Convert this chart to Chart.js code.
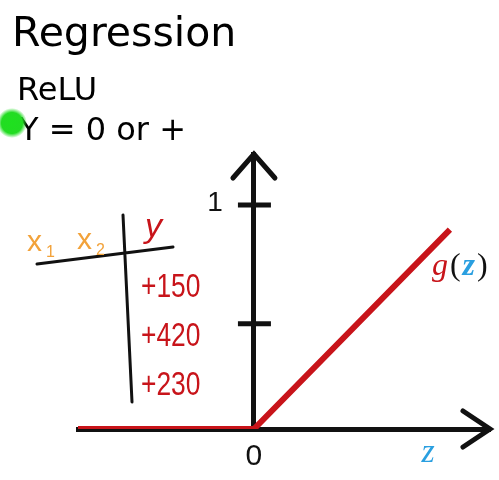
<!DOCTYPE html>
<html>
<head>
<meta charset="utf-8">
<title>Regression – ReLU</title>
<script src="https://cdn.jsdelivr.net/npm/chart.js@4.4.1/dist/chart.umd.min.js"></script>
<style>
  html, body { margin: 0; padding: 0; background: #fff; }
  #reluChart { display: block; }
</style>
</head>
<body>
<canvas id="reluChart" width="499" height="480"></canvas>
<script>
// ReLU: g(z) = max(0, z)
const reluZ = [-0.79, 0, 0.88];
const reluG = [0, 0, 0.89];

const xTickValues = [0];
const xTickLabels = ['0'];
const yTickValues = [0.47, 1];
const yTickLabels = ['', '1'];

// handgeschriebene Tabelle links
const featureNames = ['x', 'x'];
const featureIndex = ['1', '2'];
const targetName = 'y';
const targetValues = [150, 420, 230];

const ROT = '#c8141a';
const BLAU = '#2a9fe0';
const ORANGE = '#f2a23a';
const SCHWARZ = '#111';

// === Zusatzzeichnungen (Pfeile, Striche, Texte) ===
const slideDecor = {
  id: 'slideDecor',
  afterDraw(chart) {
    const { ctx, chartArea, scales: { x, y } } = chart;
    const x0 = x.getPixelForValue(0);
    const y0 = y.getPixelForValue(0);

    ctx.save();
    ctx.strokeStyle = SCHWARZ;
    ctx.lineWidth = 5;
    ctx.lineJoin = 'miter';
    ctx.lineCap = 'round';

    // Pfeilspitze x-Achse
    ctx.beginPath();
    ctx.moveTo(chartArea.right - 27, y0 - 18);
    ctx.lineTo(chartArea.right, y0);
    ctx.lineTo(chartArea.right - 27, y0 + 18);
    ctx.stroke();

    // Pfeilspitze y-Achse
    ctx.beginPath();
    ctx.moveTo(x0 - 21, chartArea.top + 24);
    ctx.lineTo(x0, chartArea.top);
    ctx.lineTo(x0 + 21, chartArea.top + 24);
    ctx.stroke();

    // Striche und Beschriftung auf der y-Achse
    ctx.lineCap = 'butt';
    ctx.fillStyle = SCHWARZ;
    ctx.font = '28px "Liberation Sans"';
    ctx.textAlign = 'right';
    ctx.textBaseline = 'middle';
    yTickValues.forEach((v, i) => {
      const py = y.getPixelForValue(v);
      ctx.beginPath();
      ctx.moveTo(x0 - 16, py);
      ctx.lineTo(x0 + 17, py);
      ctx.stroke();
      ctx.fillText(yTickLabels[i], x0 - 31, py - 2);
    });

    // g(z)
    const last = reluZ.length - 1;
    let gx = x.getPixelForValue(reluZ[last]) - 18;
    const gy = y.getPixelForValue(reluG[last]) + 45;
    ctx.textBaseline = 'alphabetic';
    ctx.textAlign = 'left';
    const teile = [
      ['g', ROT, 'italic 32px "Liberation Serif"'],
      ['(', SCHWARZ, '32px "Liberation Serif"'],
      ['z', BLAU, 'italic bold 32px "Liberation Serif"'],
      [')', SCHWARZ, '32px "Liberation Serif"']
    ];
    teile.forEach(([t, c, f]) => {
      ctx.font = f;
      ctx.fillStyle = c;
      ctx.fillText(t, gx, gy);
      gx += ctx.measureText(t).width + 2;
    });

    // z unter der x-Achse
    ctx.font = 'italic 34px "Liberation Serif"';
    ctx.fillStyle = BLAU;
    ctx.textAlign = 'center';
    ctx.fillText('z', 428, 462);

    // Überschriften
    ctx.textAlign = 'left';
    ctx.fillStyle = '#000';
    ctx.font = '41px "DejaVu Sans"';
    ctx.fillText('Regression', 12, 46);
    ctx.font = '32px "DejaVu Sans"';
    ctx.fillText('ReLU', 17, 100);
    ctx.fillText('Y = 0 or +', 19, 140);

    // Tabelle
    ctx.strokeStyle = SCHWARZ;
    ctx.lineWidth = 3;
    ctx.lineCap = 'round';
    ctx.beginPath();
    ctx.moveTo(37, 264);
    ctx.lineTo(173, 247);
    ctx.moveTo(123, 215);
    ctx.lineTo(132, 402);
    ctx.stroke();

    ctx.fillStyle = ORANGE;
    featureNames.forEach((n, i) => {
      const fx = 27 + i * 50;
      ctx.font = '30px "Liberation Sans"';
      ctx.fillText(n, fx, 251 - i * 2);
      ctx.font = '16px "Liberation Sans"';
      ctx.fillText(featureIndex[i], fx + 19, 257 - i * 2);
    });

    ctx.fillStyle = ROT;
    ctx.font = 'italic 34px "Liberation Sans"';
    ctx.fillText(targetName, 145, 237);

    ctx.font = '33px "Liberation Sans"';
    targetValues.forEach((v, i) => {
      ctx.save();
      ctx.translate(141, 297 + i * 49);
      ctx.scale(0.8, 1);
      ctx.fillText('+' + v, 0, 0);
      ctx.restore();
    });

    // grüner Laserpunkt
    const grad = ctx.createRadialGradient(12, 123, 0, 12, 123, 15);
    grad.addColorStop(0, '#1fe01f');
    grad.addColorStop(0.7, '#22dc22');
    grad.addColorStop(1, 'rgba(34,220,34,0)');
    ctx.fillStyle = grad;
    ctx.beginPath();
    ctx.arc(12, 123, 15, 0, Math.PI * 2);
    ctx.fill();

    ctx.restore();
  }
};

new Chart(document.getElementById('reluChart'), {
  type: 'line',
  data: {
    datasets: [{
      label: 'g(z)',
      data: reluZ.map((z, i) => ({ x: z, y: reluG[i] })),
      borderColor: ROT,
      borderWidth: 6,
      borderCapStyle: 'butt',
      borderJoinStyle: 'miter',
      pointRadius: 0,
      tension: 0
    }]
  },
  options: {
    responsive: false,
    animation: false,
    layout: { padding: { left: 78, right: 9, top: 154, bottom: 51 } },
    scales: {
      x: {
        type: 'linear',
        min: -0.79,
        max: 1.06,
        position: { y: 0 },
        afterBuildTicks: s => { s.ticks = xTickValues.map(v => ({ value: v })); },
        ticks: {
          callback: (v, i) => xTickLabels[i],
          font: { family: 'Liberation Sans', size: 30 },
          color: SCHWARZ,
          padding: 10,
          maxRotation: 0,
          autoSkip: false
        },
        grid: { drawOnChartArea: false, drawTicks: false },
        border: { color: SCHWARZ, width: 5 }
      },
      y: {
        type: 'linear',
        min: 0,
        max: 1.228,
        position: { x: 0 },
        afterBuildTicks: s => { s.ticks = yTickValues.map(v => ({ value: v })); },
        ticks: { display: false },
        grid: { drawOnChartArea: false, drawTicks: false },
        border: { color: SCHWARZ, width: 5 }
      }
    },
    plugins: {
      legend: { display: false },
      tooltip: { enabled: false }
    }
  },
  plugins: [slideDecor]
});
</script>
</body>
</html>
